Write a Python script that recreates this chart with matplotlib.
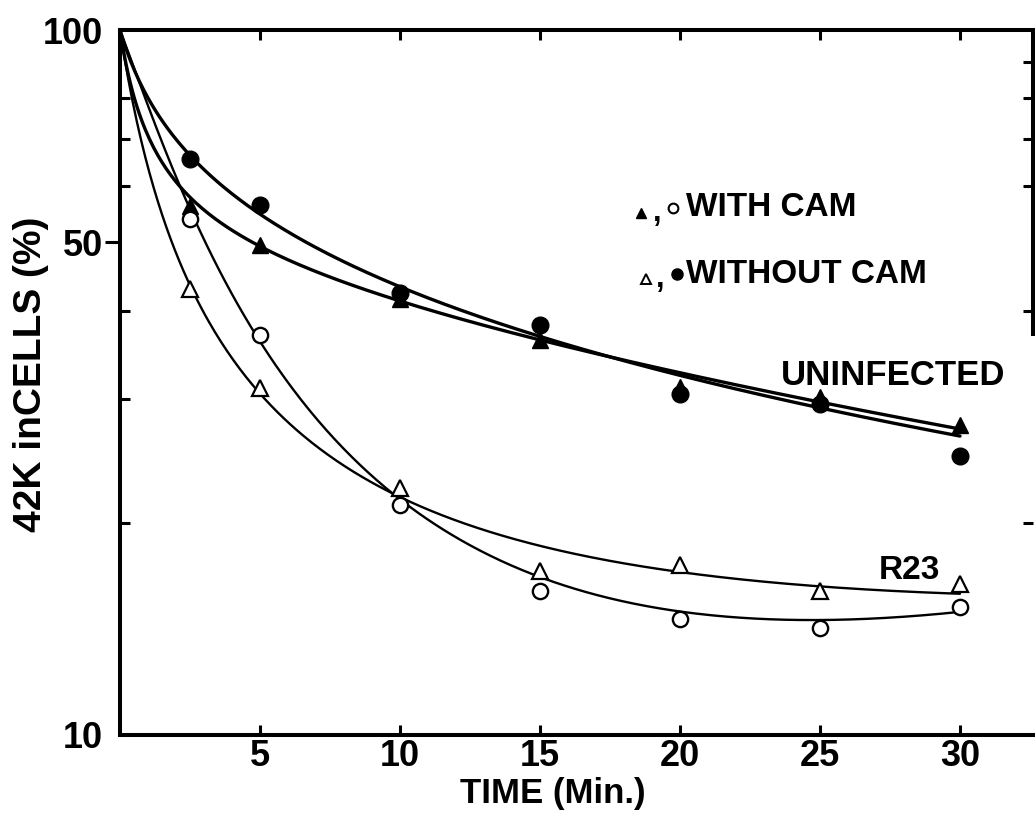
import numpy as np
import matplotlib
matplotlib.use("Agg")
import matplotlib.pyplot as plt
from matplotlib.ticker import FixedLocator, NullFormatter

# ---- measured data ----
minutes = [2.5, 5, 10, 15, 20, 25, 30]
uninf_cam = [56.2, 49.6, 41.6, 36.3, 31.2, 30.2, 27.5]      # filled triangles
uninf_nocam = [65.7, 56.5, 42.4, 38.1, 30.5, 29.5, 24.9]    # filled circles
r23_cam = [53.9, 36.9, 21.2, 16.0, 14.6, 14.2, 15.2]        # open circles
r23_nocam = [42.9, 31.1, 22.4, 17.1, 17.4, 16.0, 16.4]      # open triangles

# ---- hand-drawn smooth curves (knots along each curve) ----
curve_t = [0, 2.5, 5, 10, 15, 20, 25, 30]
fit_uninf_nocam = [100, 65.5, 56.1, 42.6, 37.0, 32.0, 29.4, 26.5]
fit_uninf_cam = [100, 57.7, 49.6, 41.2, 36.5, 32.2, 30.0, 27.1]
fit_r23_cam = [100, 54.5, 36.9, 21.6, 16.9, 14.8, 14.3, 15.2]
fit_r23_nocam = [100, 42.9, 30.8, 22.1, 18.3, 16.9, 16.2, 16.0]

x_ticks = [5, 10, 15, 20, 25, 30]
y_major = [10, 50, 100]
y_minor = [20, 30, 40, 60, 70, 80, 90]
right_ticks = [20, 40, 50, 60, 70, 80, 90]

BOLD = ["Liberation Sans", "DejaVu Sans"]
NARROW = ["Liberation Sans Narrow", "Liberation Sans", "DejaVu Sans"]


def smooth(vals, tau=2.0, deg=3):
    """Least-squares smooth curve through the knots, in log space,
    anchored at the starting value."""
    t = np.asarray(curve_t, float)
    lv = np.log10(np.asarray(vals, float))
    s = np.log1p(t / tau)
    A = np.column_stack([s ** k for k in range(1, deg + 1)])
    coef, *_ = np.linalg.lstsq(A[1:], lv[1:] - lv[0], rcond=None)
    ts = np.linspace(t[0], t[-1], 400)
    ss = np.log1p(ts / tau)
    As = np.column_stack([ss ** k for k in range(1, deg + 1)])
    return ts, 10 ** (lv[0] + As @ coef)


W, H = 1035, 815
fig = plt.figure(figsize=(W / 100, H / 100), dpi=100)
ax = fig.add_axes([120 / W, 1 - 735 / H, (1033 - 120) / W, (735 - 30) / H])
ax.set_yscale("log")
ax.set_xlim(0, (1033 - 120) / 28.0)
ax.set_ylim(10, 100)

# curves
for vals, lw, tau in [(fit_uninf_nocam, 2.4, 1.2), (fit_uninf_cam, 2.4, 1.0),
                      (fit_r23_cam, 1.7, 3.0), (fit_r23_nocam, 1.7, 1.5)]:
    ts, vs = smooth(vals, tau=tau)
    ax.plot(ts, vs, color="black", lw=lw, solid_capstyle="round", zorder=2)

# data points
ax.plot(minutes, uninf_nocam, "o", ms=12, color="black", zorder=3)
ax.plot(minutes, uninf_cam, "^", ms=12, color="black", zorder=3)
ax.plot(minutes, r23_cam, "o", ms=11, mfc="white", mec="black", mew=1.7, zorder=3)
ax.plot(minutes, r23_nocam, "^", ms=11, mfc="white", mec="black", mew=1.6, zorder=3)

# frame
for s in ax.spines.values():
    s.set_linewidth(2.9)
ax.spines["right"].set_bounds(37, 100)

ax.xaxis.set_major_locator(FixedLocator(x_ticks))
ax.set_xticklabels([str(v) for v in x_ticks])
ax.tick_params(axis="x", which="major", direction="in", top=True, length=7,
               width=2.2, pad=3)
ax.xaxis.set_minor_locator(FixedLocator([]))

ax.yaxis.set_major_locator(FixedLocator(y_major))
ax.set_yticklabels([str(v) for v in y_major])
ax.yaxis.set_minor_locator(FixedLocator(y_minor))
ax.yaxis.set_minor_formatter(NullFormatter())
ax.tick_params(axis="y", which="major", direction="out", length=11, width=2.2,
               pad=1, right=False)
ax.tick_params(axis="y", which="minor", direction="in", length=7, width=2.2,
               right=True)

for lab in ax.get_xticklabels() + ax.get_yticklabels():
    lab.set_family(BOLD)
    lab.set_fontweight("bold")
    lab.set_fontsize(26)

fig.canvas.draw()
for val, tk in zip(y_major, ax.yaxis.get_major_ticks()):
    if val != 50:
        tk.tick1line.set_visible(False)
for val, tk in zip(y_minor, ax.yaxis.get_minor_ticks()):
    if val == 90:
        tk.tick1line.set_visible(False)
    if val not in right_ticks:
        tk.tick2line.set_visible(False)

# axis titles
fig.text(553 / W, 1 - 793 / H, "TIME (Min.)", ha="center", va="center",
         family=BOLD, fontweight="bold", fontsize=25)
fig.text(31 / W, 1 - 374 / H, "42K inCELLS (%)", ha="center", va="center",
         rotation=90, family=BOLD, fontweight="bold", fontsize=28)

# in-plot labels
ax.text(27.6, 32.4, "UNINFECTED", ha="center", va="center",
        family=NARROW, fontweight="bold", fontsize=25)
ax.text(28.2, 17.1, "R23", ha="center", va="center",
        family=BOLD, fontweight="bold", fontsize=24)

# key
ax.plot([18.6], [55.0], "^", ms=7, color="black")
ax.text(19.2, 55.0, ",", ha="center", va="center", family=BOLD,
        fontweight="bold", fontsize=22)
ax.plot([19.75], [56.0], "o", ms=7, mfc="white", mec="black", mew=1.5)
ax.text(20.2, 56.0, "WITH CAM", ha="left", va="center",
        family=BOLD, fontweight="bold", fontsize=24)

ax.plot([18.8], [44.4], "^", ms=7, mfc="white", mec="black", mew=1.4)
ax.text(19.3, 44.4, ",", ha="center", va="center", family=BOLD,
        fontweight="bold", fontsize=22)
ax.plot([19.9], [45.0], "o", ms=8, color="black")
ax.text(20.2, 45.0, "WITHOUT CAM", ha="left", va="center",
        family=BOLD, fontweight="bold", fontsize=24)

fig.savefig("out.png", dpi=100, facecolor="white")
